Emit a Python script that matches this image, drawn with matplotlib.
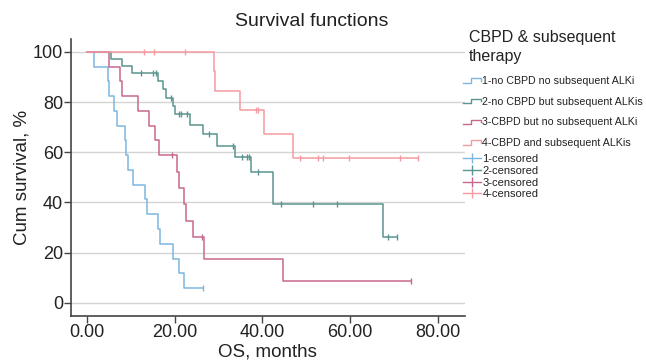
import numpy as np
import matplotlib
matplotlib.use("Agg")
import matplotlib.pyplot as plt
from matplotlib.lines import Line2D
from matplotlib.legend_handler import HandlerBase

plt.rcParams['font.family'] = ['Liberation Sans', 'DejaVu Sans']

# Kaplan-Meier curves: event times (months) and survival after each step (%)
g1_events = [1.7, 4.7, 5.0, 6.2, 6.9, 8.7, 9.0, 9.4, 10.6, 13.3, 13.8, 16.2, 16.7, 19.6, 21.1, 22.2]
g1_surv = [94.1, 88.2, 82.4, 76.5, 70.6, 64.7, 58.8, 52.9, 47.1, 41.2, 35.3, 29.4, 23.5, 17.6, 11.8, 5.9]
g1_cens = [26.5]

g2_events = [5.4, 8.1, 10.2, 16.2, 17.4, 18.0, 19.7, 20.1, 23.4, 26.4, 29.6, 33.8, 37.3, 42.4, 67.5]
g2_surv = [97.2, 94.4, 91.7, 88.4, 85.4, 81.6, 78.5, 75.3, 71.0, 67.1, 62.7, 58.2, 52.0, 39.2, 26.1]
g2_cens = [12.3, 15.0, 15.8, 19.2, 21.1, 21.5, 22.9, 27.9, 33.3, 35.4, 36.5, 36.9, 38.9,
           44.3, 51.6, 57.1, 68.6, 70.8]

g3_events = [5.1, 7.6, 8.0, 11.7, 14.1, 15.5, 16.5, 20.6, 21.0, 22.1, 22.5, 24.3, 26.6, 44.7]
g3_surv = [94.1, 88.2, 82.4, 76.5, 70.6, 64.7, 58.8, 52.3, 45.8, 39.2, 32.7, 26.1, 17.4, 8.7]
g3_cens = [19.3, 26.2, 73.8]

g4_events = [28.9, 29.2, 35.0, 40.4, 47.0]
g4_surv = [92.3, 84.6, 76.9, 67.3, 57.7]
g4_cens = [13.1, 15.4, 22.4, 38.6, 38.9, 48.5, 52.7, 53.9, 59.7, 71.4, 75.6]

labels = ['1-no CBPD no subsequent ALKi', '2-no CBPD but subsequent ALKis',
          '3-CBPD but no subsequent ALKi', '4-CBPD and subsequent ALKis']
cens_labels = ['1-censored', '2-censored', '3-censored', '4-censored']
colors = ['#7db6df', '#5b9590', '#c6688d', '#f59ba2']
xticks = [0, 20, 40, 60, 80]
yticks = [0, 20, 40, 60, 80, 100]

groups = [(g1_events, g1_surv, g1_cens), (g2_events, g2_surv, g2_cens),
          (g3_events, g3_surv, g3_cens), (g4_events, g4_surv, g4_cens)]


class StepHandler(HandlerBase):
    def create_artists(self, legend, orig_handle, xdescent, ydescent, width, height, fontsize, trans):
        x0, y0 = -xdescent, -ydescent
        xs = [x0, x0 + 0.45 * width, x0 + 0.45 * width, x0 + width, x0 + width]
        ys = [y0 + 0.2 * height, y0 + 0.2 * height, y0 + 0.75 * height, y0 + 0.75 * height, y0 + 0.45 * height]
        ln = Line2D(xs, ys, color=orig_handle.get_color(), lw=1)
        ln.set_transform(trans)
        return [ln]


fig = plt.figure(figsize=(6.46, 3.63), dpi=100)
ax = fig.add_axes([0.1094, 0.1303, 0.6104, 0.7614])

for (ev, sv, cs), col in zip(groups, colors):
    t = np.array([0] + ev + [max(ev + cs)])
    s = np.array([100] + sv + [sv[-1]])
    ax.step(t, s, where='post', color=col, lw=1.1, zorder=3)
    idx = np.searchsorted(np.array(ev), cs, side='right')
    lev = np.array([100] + sv)[idx]
    ax.plot(cs, lev, ls='none', marker='|', ms=5, mew=1, color=col, zorder=4)

ax.set_xlim(-3.7, 86.2)
ax.set_ylim(-5.1, 105.0)
ax.set_xticks(xticks)
ax.set_xticklabels(['%.2f' % v for v in xticks])
ax.set_yticks(yticks)
ax.yaxis.grid(True, color='#d4d4d4', lw=1)
ax.set_axisbelow(True)
for sp in ['top', 'right']:
    ax.spines[sp].set_visible(False)
for sp in ['left', 'bottom']:
    ax.spines[sp].set_color('#444444')
    ax.spines[sp].set_linewidth(1.2)
ax.tick_params(length=5, width=1, color='#444444', labelsize=13, labelcolor='#222222', pad=1)
ax.tick_params(axis='y', pad=0.5)
ax.set_xlabel('OS, months', fontsize=13.5, color='#222222', labelpad=1.5)
ax.set_ylabel('Cum survival, %', fontsize=13.5, color='#222222', labelpad=2)
fig.text(312 / 646, 1 - 21 / 363, 'Survival functions', fontsize=14, color='#222222',
         ha='center', va='center')

fig.text(469 / 646, 1 - 30 / 363, 'CBPD & subsequent\ntherapy', fontsize=11.5, color='#222222',
         ha='left', va='top', linespacing=1.3)

h1 = [Line2D([], [], color=c) for c in colors]
leg1 = fig.legend(h1, labels, loc='upper left', bbox_to_anchor=(463 / 646, 1 - 76 / 363),
                  frameon=False, fontsize=7.7, handlelength=1.65, handletextpad=0.15,
                  labelspacing=1.0, borderpad=0, borderaxespad=0,
                  handler_map={Line2D: StepHandler()})
for tx in leg1.get_texts():
    tx.set_color('#222222')

h2 = [Line2D([], [], color=c, marker='|', ms=7, mew=1, lw=1) for c in colors]
leg2 = fig.legend(h2, cens_labels, loc='upper left', bbox_to_anchor=(463 / 646, 1 - 154 / 363),
                  frameon=False, fontsize=8, handlelength=1.6, handletextpad=0.15,
                  labelspacing=0.16, borderpad=0, borderaxespad=0, numpoints=1)
for tx in leg2.get_texts():
    tx.set_color('#222222')

fig.savefig('out.png', dpi=100)
